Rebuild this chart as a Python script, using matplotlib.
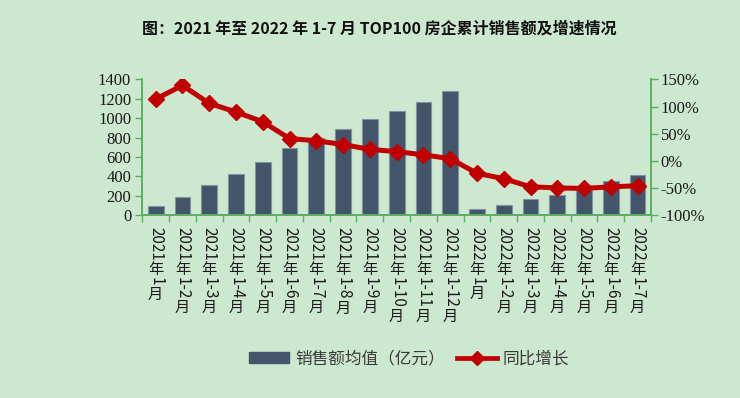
import matplotlib
matplotlib.use("Agg")
import matplotlib.pyplot as plt
import numpy as np
from matplotlib.transforms import IdentityTransform
from matplotlib.patches import Patch
from matplotlib.lines import Line2D

categories = ["2021年1月", "2021年1-2月", "2021年1-3月", "2021年1-4月", "2021年1-5月",
              "2021年1-6月", "2021年1-7月", "2021年1-8月", "2021年1-9月", "2021年1-10月",
              "2021年1-11月", "2021年1-12月", "2022年1月", "2022年1-2月", "2022年1-3月",
              "2022年1-4月", "2022年1-5月", "2022年1-6月", "2022年1-7月"]
sales_avg = [92, 186, 306, 427, 551, 689, 800, 888, 988, 1074, 1164, 1281,
             62, 100, 162, 207, 262, 351, 413]
growth_pct = [114, 139, 106, 90, 72, 41, 37, 30, 21, 17, 11, 4,
              -23, -33, -48, -50, -51, -48, -46]
left_ticks = [0, 200, 400, 600, 800, 1000, 1200, 1400]
right_ticks = [-100, -50, 0, 50, 100, 150]
title = "图：2021 年至 2022 年 1-7 月 TOP100 房企累计销售额及增速情况"
legend_bar = "销售额均值（亿元）"
legend_line = "同比增长"

BG = "#CCE8CF"
BAR = "#44546A"
RED = "#C00000"
GREEN = "#5AAE61"
CJK = ["Noto Sans CJK SC", "DejaVu Sans"]
SERIF = "Liberation Serif"

fig = plt.figure(figsize=(7.4, 3.98), dpi=100, facecolor=BG)
ax = fig.add_axes([0.1923, 0.4598, 0.8797 - 0.1923, 0.8003 - 0.4598])
ax.set_facecolor(BG)
x = np.arange(len(categories))
ax.bar(x, sales_avg, width=0.59, color=BAR, edgecolor="#8393A6", linewidth=0.8, zorder=2)
ax.set_xlim(-0.5, len(categories) - 0.5)
ax.set_ylim(0, 1400)
ax.set_yticks(left_ticks)
ax.set_yticklabels([str(v) for v in left_ticks], fontfamily=SERIF, fontsize=12, color="#1a1a1a")
ax.set_xticks(np.arange(-0.5, len(categories), 1))
ax.set_xticklabels([])
ax.tick_params(axis="x", length=5, width=1, color=GREEN, direction="out")
ax.tick_params(axis="y", length=5, width=1, color=GREEN, direction="out", pad=3)
ax.spines["top"].set_visible(False)
for s in ["left", "right", "bottom"]:
    ax.spines[s].set_color(GREEN)
    ax.spines[s].set_linewidth(1.2)

ax2 = ax.twinx()
ax2.plot(x, growth_pct, color=RED, linewidth=3.6, marker="D", markersize=8.5,
         markerfacecolor=RED, markeredgecolor=RED, zorder=3)
ax2.set_ylim(-100, 150)
ax2.set_yticks(right_ticks)
ax2.set_yticklabels([f"{v}%" for v in right_ticks], fontfamily=SERIF, fontsize=12, color="#1a1a1a")
ax2.tick_params(axis="y", length=5, width=1, color=GREEN, direction="out", pad=2)
ax2.spines["top"].set_visible(False)
for s in ["left", "right", "bottom"]:
    ax2.spines[s].set_color(GREEN)
    ax2.spines[s].set_linewidth(1.2)

# vertical category labels: digits rotated, CJK upright
fig.canvas.draw()
renderer = fig.canvas.get_renderer()
fs = 11
em = fs * 100 / 72.0
y_axis_px = ax.transData.transform((0, 0))[1]

def segments(s):
    out, buf = [], ""
    for ch in s:
        if ord(ch) > 0x2E80:
            if buf:
                out.append(("r", buf)); buf = ""
            out.append(("u", ch))
        else:
            buf += ch
    if buf:
        out.append(("r", buf))
    return out

for i, lab in enumerate(categories):
    xc = ax.transData.transform((i, 0))[0]
    ycur = y_axis_px - 12
    for kind, seg in segments(lab):
        if kind == "u":
            fig.text(xc, ycur + 1, seg, transform=IdentityTransform(), ha="center", va="top",
                     fontsize=fs, family=CJK, color="#1a1a1a")
            ycur -= em * 1.0
        else:
            t = fig.text(xc, ycur, seg, transform=IdentityTransform(), ha="center", va="top",
                         rotation=-90, fontsize=fs, family=CJK, color="#1a1a1a")
            bb = t.get_window_extent(renderer)
            ycur -= bb.height + 1

fig.text(0.512, 0.927, title, ha="center", va="center", fontsize=11.5, fontweight="bold",
         family=CJK, color="#111111")

handles = [Patch(facecolor=BAR, edgecolor=BAR),
           Line2D([0], [0], color=RED, linewidth=3.4, marker="D", markersize=7)]
leg = fig.legend(handles, [legend_bar, legend_line], loc="center", bbox_to_anchor=(0.553, 0.098),
                 ncol=2, frameon=False, prop={"family": CJK, "size": 12},
                 handlelength=2.4, handletextpad=0.35, columnspacing=0.7)
for t in leg.get_texts():
    t.set_color("#3a3a3a")

fig.savefig("out.png", dpi=100, facecolor=BG)
